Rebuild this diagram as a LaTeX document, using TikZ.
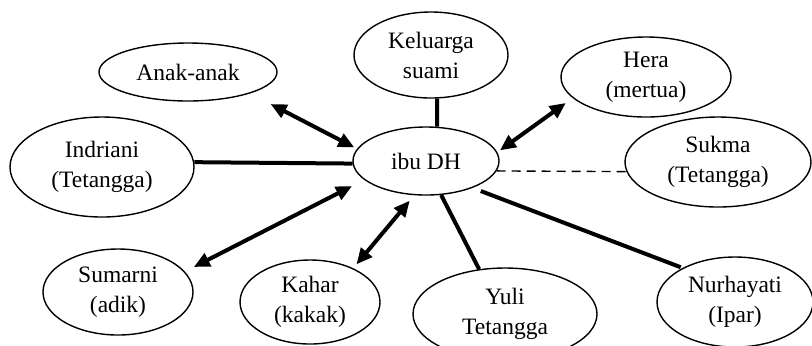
\documentclass[tikz,border=0pt]{standalone}
\usepackage{fontspec}
\setmainfont{Liberation Serif}
\usetikzlibrary{shapes.geometric,arrows.meta}

\tikzset{every picture/.style={line width=0.7pt}}
\tikzset{
  pers/.style={draw, ellipse, inner sep=1pt, align=center, font=\fontsize{11.75}{15}\selectfont},
  tie/.style={line width=2pt},
  tiearr/.style={line width=2pt, {Triangle[length=8pt,width=7pt]}-{Triangle[length=8pt,width=7pt]}},
  weak/.style={line width=0.7pt, dash pattern=on 4.5pt off 3pt}
}

\begin{document}
\begin{tikzpicture}[x=0.5pt,y=0.5pt,yscale=-1,xscale=1]
	\useasboundingbox (0,0) rectangle (812,345);

	%Shape: Ellipse
	\node[pers, minimum width=73pt, minimum height=34pt] (ibu) at (426,161) {ibu DH};
	%Shape: Ellipse
	\node[pers, minimum width=89pt, minimum height=29pt] (anak) at (188,72) {Anak-anak};
	%Shape: Ellipse
	\node[pers, minimum width=77pt, minimum height=43pt] (kel) at (431,55) {Keluarga\\suami};
	%Shape: Ellipse
	\node[pers, minimum width=85pt, minimum height=40pt] (hera) at (646,77) {Hera\\(mertua)};
	%Shape: Ellipse
	\node[pers, minimum width=92pt, minimum height=50pt] (indri) at (102,167) {Indriani\\(Tetangga)};
	%Shape: Ellipse
	\node[pers, minimum width=93pt, minimum height=45pt] (sukma) at (718,162) {Sukma\\(Tetangga)};
	%Shape: Ellipse
	\node[pers, minimum width=75pt, minimum height=43pt] (sumarni) at (118,292) {Sumarni\\(adik)};
	%Shape: Ellipse
	\node[pers, minimum width=70pt, minimum height=42pt] (kahar) at (310,302) {Kahar\\(kakak)};
	%Shape: Ellipse
	\node[pers, minimum width=92pt, minimum height=46pt] (yuli) at (505,314) {Yuli\\Tetangga};
	%Shape: Ellipse
	\node[pers, minimum width=78pt, minimum height=45pt] (nurh) at (735,302) {Nurhayati\\(Ipar)};

	%Straight Lines
	\draw[tie] (kel.-82) -- (ibu.72);
	\draw[tie] (indri.3) -- (ibu.182);
	\draw[tie] (ibu.-66) -- (yuli.120);
	\draw[tie, shorten <=4.4pt, shorten >=1pt] (ibu.-30) -- (nurh.147);
	%Dashed Lines
	\draw[weak] (ibu.-8) -- (sukma.186);
	%Double Arrows
	\draw[tiearr, shorten <=11.5pt, shorten >=1.5pt] (anak.-19) -- (ibu.170);
	\draw[tiearr, shorten <=1.6pt, shorten >=4.2pt] (ibu.7) -- (hera.196);
	\draw[tiearr, shorten <=5pt, shorten >=6.8pt] (sumarni.17) -- (ibu.197);
	\draw[tiearr, shorten <=2.5pt, shorten >=3.5pt] (kahar.38) -- (ibu.251);

\end{tikzpicture}
\end{document}
